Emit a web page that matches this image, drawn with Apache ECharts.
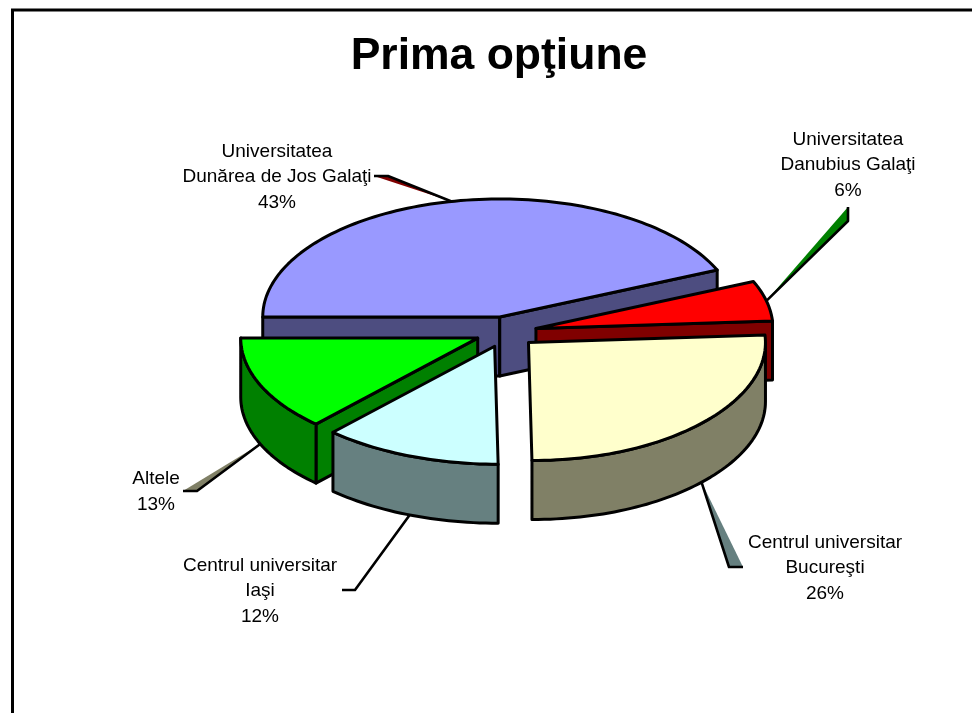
<!DOCTYPE html>
<html>
<head>
<meta charset="utf-8">
<style>html,body{margin:0;padding:0;background:#fff}#chart{width:972px;height:713px}</style>
<script src="https://cdn.jsdelivr.net/npm/echarts@6/dist/echarts.min.js"></script>
</head>
<body>
<div id="chart"></div>
<script>
// Data
const titleText = 'Prima opţiune';
const sliceNames = ['Universitatea\nDunărea de Jos Galaţi', 'Universitatea\nDanubius Galaţi', 'Centrul universitar\nBucureşti', 'Centrul universitar\nIaşi', 'Altele'];
const sliceValues = [43.49, 5.51, 26, 12, 13];

// Styles and layout
const topColors = ['#9999FF', '#FF0000', '#FFFFCC', '#CCFFFF', '#00FF00'];
const sideColors = ['#4D4D80', '#800000', '#808066', '#668080', '#008000'];
const leaderFills = ['#800000', '#008000', '#668080', 'none', '#808066'];
const drawOrder = [0, 1, 4, 3, 2];
const labelCentres = [[277, 177], [848, 165], [825, 568], [260, 591], [156, 492]];
const leaderElbows = [[[388, 176], [374, 176]], [[848, 221], [848, 207]], [[729, 567], [743, 567]], [[355, 590], [342, 590]], [[197, 491], [183, 491]]];
const pie = { cx: 506, cy: 332, rx: 237, ry: 118, depth: 59, explode: 0.13, startDeg: 180, frontSkew: 3.5 };
const STROKE = 3, FONT = '"Liberation Sans", Arial, sans-serif';

const total = sliceValues.reduce((a, b) => a + b, 0);
const rad = d => d * Math.PI / 180;

function sliceGeom(i) {
  const before = sliceValues.slice(0, i).reduce((a, b) => a + b, 0);
  const t0 = pie.startDeg - before / total * 360;
  const t1 = t0 - sliceValues[i] / total * 360;
  const m = rad((t0 + t1) / 2);
  const ax = pie.cx + pie.explode * pie.rx * Math.cos(m);
  const ay = pie.cy - pie.explode * pie.ry * Math.sin(m);
  const at = (d, dy) => {
    const s = Math.sin(rad(d));
    // slight perspective lean of the nearest part of the rim
    const lean = s < 0 ? pie.frontSkew * Math.pow(-s, 6) : 0;
    return [ax + pie.rx * Math.cos(rad(d)) + lean, ay - pie.ry * s + (dy || 0)];
  };
  return { t0, t1, m: (t0 + t1) / 2, ax, ay, at };
}

function arcPoints(g, a, b, dy) {
  const n = Math.max(2, Math.ceil(Math.abs(a - b) / 1.5));
  const out = [];
  for (let k = 0; k <= n; k++) out.push(g.at(a + (b - a) * k / n, dy));
  return out;
}

function renderSlice(params, api) {
  const i = api.value(0);
  const g = sliceGeom(i);
  const children = [];
  const line = { stroke: '#000', lineWidth: STROKE, lineJoin: 'round' };
  const poly = (points, fill) => children.push({ type: 'polygon', shape: { points }, style: { fill, ...line } });

  // leader
  const anchorBase = g.at(g.m);
  const front = Math.sin(rad(g.m)) < 0 ? pie.depth : 0;
  const anchor = [anchorBase[0], anchorBase[1] + front];
  const [elbow, end] = leaderElbows[i];
  if (leaderFills[i] !== 'none') {
    children.push({ type: 'polygon', shape: { points: [anchor, elbow, end] }, style: { fill: leaderFills[i], stroke: null } });
  }
  children.push({ type: 'polyline', shape: { points: [anchor, elbow, end] }, style: { fill: null, ...line, lineWidth: 2.6 } });

  // cut walls that face the viewer
  const wall = d => {
    const p = g.at(d);
    poly([[g.ax, g.ay], p, [p[0], p[1] + pie.depth], [g.ax, g.ay + pie.depth]], sideColors[i]);
  };
  if (Math.cos(rad(g.t0)) < -1e-6) wall(g.t0);
  if (Math.cos(rad(g.t1)) > 1e-6) wall(g.t1);

  // outer wall, lower half of the ellipse only
  const a = Math.min(g.t0, 0), b = Math.max(g.t1, -180);
  if (a > b) poly(arcPoints(g, a, b).concat(arcPoints(g, b, a, pie.depth)), sideColors[i]);

  // top face
  poly([[g.ax, g.ay]].concat(arcPoints(g, g.t0, g.t1)), topColors[i]);

  // label
  const pct = Math.round(sliceValues[i] / total * 100) + '%';
  children.push({
    type: 'text',
    style: {
      x: labelCentres[i][0], y: labelCentres[i][1],
      text: sliceNames[i] + '\n' + pct,
      align: 'center', verticalAlign: 'middle',
      fontSize: 19, lineHeight: 25.5, fontFamily: FONT, fill: '#000'
    }
  });
  return { type: 'group', children };
}

const chart = echarts.init(document.getElementById('chart'), null, { renderer: 'canvas' });
chart.setOption({
  animation: false,
  backgroundColor: '#fff',
  title: {
    text: titleText, left: 499, top: 34, padding: 0, textAlign: 'center',
    textStyle: { fontFamily: FONT, fontWeight: 'bold', fontSize: 44.5, color: '#000' }
  },
  graphic: [{
    type: 'polyline', silent: true,
    shape: { points: [[12.5, 713], [12.5, 10], [972, 10]] },
    style: { fill: null, stroke: '#000', lineWidth: 3 }
  }],
  series: [{
    type: 'custom',
    coordinateSystem: 'none',
    silent: true,
    renderItem: renderSlice,
    data: drawOrder.map(i => ({ name: sliceNames[i], value: [i, sliceValues[i]] }))
  }]
});
</script>
</body>
</html>
